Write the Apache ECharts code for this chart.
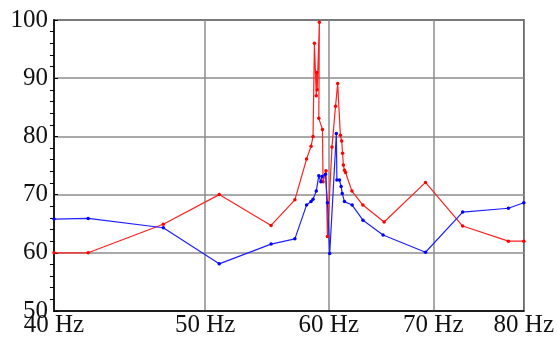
<!DOCTYPE html>
<html><head><meta charset="utf-8">
<script src="https://cdn.jsdelivr.net/npm/echarts@6/dist/echarts.min.js"></script>
<style>html,body{margin:0;padding:0;background:#fff}#c{width:557px;height:338px}</style>
</head><body><div id="c"></div>
<script>
const xTickHz = [40, 50, 60, 70, 80];
const yTicks = [50, 60, 70, 80, 90, 100];
const redHz = [40, 42.07, 47.0, 51.04, 55.1, 57.07, 58.06, 58.45, 58.62, 58.74, 58.9, 58.94, 58.98, 59.17, 59.12, 59.44, 59.49, 59.75, 59.88, 60.28, 60.6, 60.79, 61.03, 61.15, 61.23, 61.3, 61.4, 61.5, 62.08, 63.09, 65.1, 69.2, 73.1, 78.2, 80];
const redVal = [60.0, 60.0, 64.9, 70.0, 64.7, 69.1, 76.1, 78.3, 80.0, 96.0, 87.0, 91.0, 88.0, 99.6, 83.1, 81.2, 72.2, 74.1, 62.8, 78.2, 85.2, 89.1, 80.2, 79.2, 77.1, 75.1, 74.2, 73.8, 70.6, 68.2, 65.3, 72.1, 64.6, 62.0, 62.0];
const blueHz = [40, 42.07, 47.0, 51.04, 55.1, 57.07, 58.06, 58.45, 58.62, 58.9, 59.12, 59.3, 59.4, 59.7, 59.88, 60.08, 60.67, 60.72, 60.95, 61.1, 61.2, 61.4, 62.1, 63.1, 65.0, 69.2, 73.1, 78.2, 80];
const blueVal = [65.8, 65.9, 64.3, 58.1, 61.5, 62.4, 68.2, 68.8, 69.2, 70.6, 73.25, 72.2, 73.1, 73.5, 68.6, 59.9, 80.5, 72.5, 72.5, 71.4, 70.2, 68.8, 68.2, 65.6, 63.05, 60.1, 67.0, 67.65, 68.6];

const toPts = (hz, v) => hz.map((f, i) => [Math.log(f), v[i]]);
const font = '"Liberation Serif", "Times New Roman", serif';
const chart = echarts.init(document.getElementById('c'));
chart.setOption({
  animation: false,
  grid: {left: 54, right: 30, top: 20, bottom: 27, show: true, borderColor: '#000', borderWidth: 1.5, backgroundColor: 'transparent'},
  xAxis: {
    type: 'value', min: Math.log(xTickHz[0]), max: Math.log(xTickHz[xTickHz.length - 1]),
    axisLine: {show: true, onZero: false, lineStyle: {color: '#000', width: 1.5}},
    axisTick: {show: false, customValues: xTickHz.map(Math.log)},
    axisLabel: {customValues: xTickHz.map(Math.log), formatter: v => Math.round(Math.exp(v)) + ' Hz', color: '#111', fontFamily: font, fontSize: 25, margin: 2},
    splitLine: {show: true, lineStyle: {color: '#8c8c8c', width: 1.5}}
  },
  yAxis: {
    type: 'value', min: yTicks[0], max: yTicks[yTicks.length - 1], interval: 10,
    axisLine: {show: true, lineStyle: {color: '#000', width: 1.5}},
    axisTick: {show: true, inside: true, length: 4, lineStyle: {color: '#000'}},
    minorTick: {show: true, splitNumber: 5, length: -4, lineStyle: {color: '#000', width: 1}},
    axisLabel: {color: '#111', fontFamily: font, fontSize: 25, margin: 6},
    splitLine: {show: true, lineStyle: {color: '#8c8c8c', width: 1.5}}
  },
  series: [
    {type: 'line', data: toPts(redHz, redVal), symbol: 'circle', symbolSize: 3.5, showSymbol: true,
     itemStyle: {color: '#ff0000'}, lineStyle: {color: '#ff2020', width: 1.2}},
    {type: 'line', data: toPts(blueHz, blueVal), symbol: 'circle', symbolSize: 3.5, showSymbol: true,
     itemStyle: {color: '#0000ff'}, lineStyle: {color: '#2020ff', width: 1.2}}
  ]
});
</script></body></html>
